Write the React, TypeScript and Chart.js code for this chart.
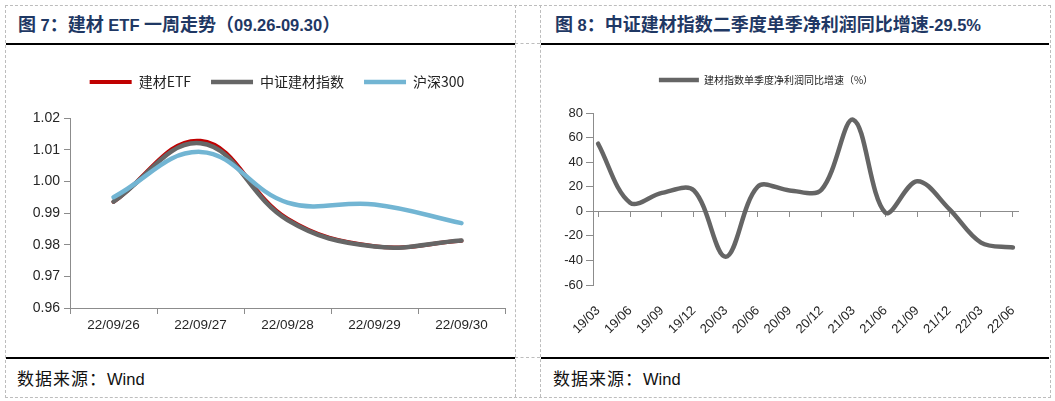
import React, { useEffect, useRef } from 'react';
import { Chart, registerables } from 'chart.js';

Chart.register(...registerables);

// ---------- data: figure 7 ----------
const etfDates = ['22/09/26', '22/09/27', '22/09/28', '22/09/29', '22/09/30'];
const etfSeries = [0.9935, 1.0128, 0.9882, 0.9795, 0.9812];
const indexSeries = [0.9936, 1.012, 0.9878, 0.9794, 0.9813];
const hs300Series = [0.995, 1.0093, 0.9933, 0.9927, 0.9868];
const leftYMin = 0.96;
const leftYMax = 1.02;
const leftYStep = 0.01;
const leftSeriesNames = ['建材ETF', '中证建材指数', '沪深300'];

// ---------- data: figure 8 ----------
const quarters = ['19/03', '19/06', '19/09', '19/12', '20/03', '20/06', '20/09', '20/12', '21/03', '21/06', '21/09', '21/12', '22/03', '22/06'];
const profitGrowth = [55, 7, 15, 17, -37, 20, 17, 17.5, 74.5, -1, 24.5, 2, -25.5, -29.5];
const rightYMin = -60;
const rightYMax = 80;
const rightYStep = 20;
const rightSeriesName = '建材指数单季度净利润同比增速（%）';

// title pieces: [text, isLatin]
const titleLeftParts: [string, boolean][] = [['图', false], [' 7', true], ['：建材', false], [' ETF ', true], ['一周走势（', false], ['09.26-09.30', true], ['）', false]];
const titleRightParts: [string, boolean][] = [['图', false], [' 8', true], ['：中证建材指数二季度单季净利润同比增速', false], ['-29.5%', true]];
const sourceParts: [string, boolean][] = [['数据来源：', false], ['Wind', true]];

const CJK = '"Noto Sans CJK SC", "Noto Sans", sans-serif';
const LATIN = '"Liberation Sans", Arial, sans-serif';
const AXIS = '#8C8C8C';
const TICK_TEXT = '#262626';

const spacer = (h: number) => ({
  display: true,
  text: '',
  position: 'top',
  weight: 500,
  padding: 0,
  font: { size: 10, lineHeight: `${h}px` },
});

const legendShift = (dx: number) => ({
  id: 'legendShift',
  afterLayout(chart: any) {
    const lg = chart.legend;
    if (lg) {
      lg.left += dx;
      lg.right += dx;
    }
  },
});

function leftConfig(): any {
  const common = {
    pointRadius: 0,
    pointHoverRadius: 0,
    tension: 0.4,
    fill: false,
    borderCapStyle: 'round',
    borderJoinStyle: 'round',
  };
  return {
    type: 'line',
    data: {
      labels: etfDates,
      datasets: [
        { ...common, label: leftSeriesNames[0], data: etfSeries, borderColor: '#C00000', backgroundColor: '#C00000', borderWidth: 4, pointBorderWidth: 4, order: 3 },
        { ...common, label: leftSeriesNames[1], data: indexSeries, borderColor: '#666666', backgroundColor: '#666666', borderWidth: 4.5, pointBorderWidth: 4.5, order: 2 },
        { ...common, label: leftSeriesNames[2], data: hs300Series, borderColor: '#72B5D3', backgroundColor: '#72B5D3', borderWidth: 4.5, pointBorderWidth: 4.5, order: 1 },
      ],
    },
    options: {
      responsive: false,
      animation: false,
      layout: { padding: { top: 0, left: 0, right: 10, bottom: 0 } },
      plugins: {
        legend: {
          position: 'top',
          labels: {
            usePointStyle: true,
            pointStyle: 'line',
            pointStyleWidth: 42,
            padding: 20,
            color: '#222',
            font: { family: CJK, size: 14 },
            sort: (a: any, b: any) => a.datasetIndex - b.datasetIndex,
          },
        },
        title: spacer(19),
        tooltip: { enabled: false },
      },
      scales: {
        x: {
          type: 'category',
          offset: true,
          grid: { offset: true, drawOnChartArea: false, drawTicks: true, tickLength: 6, color: AXIS },
          border: { color: AXIS, width: 1 },
          ticks: { color: TICK_TEXT, font: { family: LATIN, size: 13.5 }, padding: 3, maxRotation: 0, autoSkip: false },
          afterFit: (s: any) => { s.height = 37; },
        },
        y: {
          min: leftYMin,
          max: leftYMax,
          grid: { drawOnChartArea: false, tickLength: 6, color: AXIS },
          border: { color: AXIS, width: 1 },
          ticks: {
            stepSize: leftYStep,
            padding: 4,
            color: TICK_TEXT,
            font: { family: LATIN, size: 14 },
            callback: (v: any) => Number(v).toFixed(2),
          },
          afterFit: (s: any) => { s.width = 60; },
        },
      },
    },
    plugins: [legendShift(19.5)],
  };
}

function rightConfig(): any {
  const xMin = -0.16;
  const xMax = quarters.length - 1 + 0.16;
  return {
    type: 'line',
    data: {
      datasets: [
        {
          label: rightSeriesName,
          data: profitGrowth.map((y, i) => ({ x: i, y })),
          xAxisID: 'x',
          yAxisID: 'y',
          borderColor: '#656565',
          backgroundColor: '#656565',
          borderWidth: 4.5,
          pointBorderWidth: 4.5,
          pointRadius: 0,
          pointHoverRadius: 0,
          tension: 0.35,
          fill: false,
          borderCapStyle: 'round',
          borderJoinStyle: 'round',
        },
      ],
    },
    options: {
      responsive: false,
      animation: false,
      layout: { padding: { top: 10, left: 0, right: 27, bottom: 0 } },
      plugins: {
        legend: {
          position: 'top',
          labels: {
            usePointStyle: true,
            pointStyle: 'line',
            pointStyleWidth: 40,
            padding: 10,
            color: '#222',
            font: { family: CJK, size: 10 },
          },
        },
        title: spacer(18),
        tooltip: { enabled: false },
      },
      scales: {
        x: {
          type: 'linear',
          position: 'bottom',
          min: xMin,
          max: xMax,
          grid: { display: false, drawTicks: false },
          border: { display: false },
          ticks: {
            stepSize: 1,
            includeBounds: false,
            autoSkip: false,
            minRotation: 45,
            maxRotation: 45,
            padding: 18,
            color: TICK_TEXT,
            font: { family: LATIN, size: 13 },
            callback: (v: any) => quarters[Math.round(Number(v))] ?? '',
          },
          afterFit: (s: any) => { s.height = 60; },
        },
        x0: {
          type: 'linear',
          axis: 'x',
          position: { y: 0 },
          min: xMin,
          max: xMax,
          grid: { drawOnChartArea: false, drawTicks: true, tickLength: 5, color: AXIS },
          border: { color: AXIS, width: 1 },
          ticks: { display: false, stepSize: 1, includeBounds: false, autoSkip: false },
        },
        y: {
          min: rightYMin,
          max: rightYMax,
          grid: { drawOnChartArea: false, tickLength: 7, color: AXIS },
          border: { color: AXIS, width: 1 },
          ticks: { stepSize: rightYStep, padding: 3, color: TICK_TEXT, font: { family: LATIN, size: 13 } },
          afterFit: (s: any) => { s.width = 48; },
        },
      },
    },
    plugins: [legendShift(-15.5)],
  };
}

const dash = '1px dashed #BDBDBD';

function Mixed({ parts, cjkSize, latinSize, bold, cjkSpacing }: { parts: [string, boolean][]; cjkSize: number; latinSize: number; bold: boolean; cjkSpacing: number }) {
  return (
    <>
      {parts.map(([t, latin], i) => (
        <span
          key={i}
          style={{
            fontFamily: latin ? LATIN : CJK,
            fontSize: latin ? latinSize : cjkSize,
            fontWeight: bold ? 700 : 400,
            letterSpacing: latin ? 0 : cjkSpacing,
            whiteSpace: 'pre',
          }}
        >
          {t}
        </span>
      ))}
    </>
  );
}

export default function App() {
  const leftRef = useRef<HTMLCanvasElement>(null);
  const rightRef = useRef<HTMLCanvasElement>(null);

  useEffect(() => {
    document.body.style.margin = '0';
    const left = new Chart(leftRef.current as HTMLCanvasElement, leftConfig());
    const right = new Chart(rightRef.current as HTMLCanvasElement, rightConfig());
    return () => {
      left.destroy();
      right.destroy();
    };
  }, []);

  const abs = (s: React.CSSProperties): React.CSSProperties => ({ position: 'absolute', ...s });

  const titleStyle: React.CSSProperties = {
    lineHeight: '24px',
    color: '#1F3864',
    whiteSpace: 'nowrap',
  };
  const footStyle: React.CSSProperties = {
    lineHeight: '22px',
    color: '#111',
    whiteSpace: 'nowrap',
  };

  return (
    <div style={abs({ left: 0, top: 0, width: 1055, height: 401, background: '#fff', overflow: 'hidden' })}>
      {/* dashed table borders */}
      <div style={abs({ left: 5, top: 5, width: 1044, height: 391, border: dash })} />
      <div style={abs({ left: 515, top: 5, width: 0, height: 392, borderLeft: dash })} />
      <div style={abs({ left: 540, top: 5, width: 0, height: 392, borderLeft: dash })} />
      <div style={abs({ left: 515, top: 43, width: 25, height: 0, borderTop: dash })} />
      <div style={abs({ left: 515, top: 357, width: 25, height: 0, borderTop: dash })} />

      {/* solid rules */}
      <div style={abs({ left: 6, top: 43, width: 509, height: 2, background: '#000' })} />
      <div style={abs({ left: 541, top: 43, width: 508, height: 2, background: '#000' })} />
      <div style={abs({ left: 6, top: 357, width: 509, height: 2, background: '#000' })} />
      <div style={abs({ left: 541, top: 357, width: 508, height: 2, background: '#000' })} />

      {/* titles */}
      <div style={abs({ left: 18, top: 11, ...titleStyle })}>
        <Mixed parts={titleLeftParts} cjkSize={18} latinSize={16.5} bold cjkSpacing={0} />
      </div>
      <div style={abs({ left: 555, top: 11, ...titleStyle })}>
        <Mixed parts={titleRightParts} cjkSize={18} latinSize={16.5} bold cjkSpacing={0} />
      </div>

      {/* charts */}
      <canvas ref={leftRef} width={505} height={290} style={abs({ left: 10, top: 55, width: 505, height: 290 })} />
      <canvas ref={rightRef} width={500} height={290} style={abs({ left: 545, top: 55, width: 500, height: 290 })} />

      {/* sources */}
      <div style={abs({ left: 17, top: 367, ...footStyle })}>
        <Mixed parts={sourceParts} cjkSize={17} latinSize={16.5} bold={false} cjkSpacing={1} />
      </div>
      <div style={abs({ left: 553, top: 367, ...footStyle })}>
        <Mixed parts={sourceParts} cjkSize={17} latinSize={16.5} bold={false} cjkSpacing={1} />
      </div>
    </div>
  );
}
